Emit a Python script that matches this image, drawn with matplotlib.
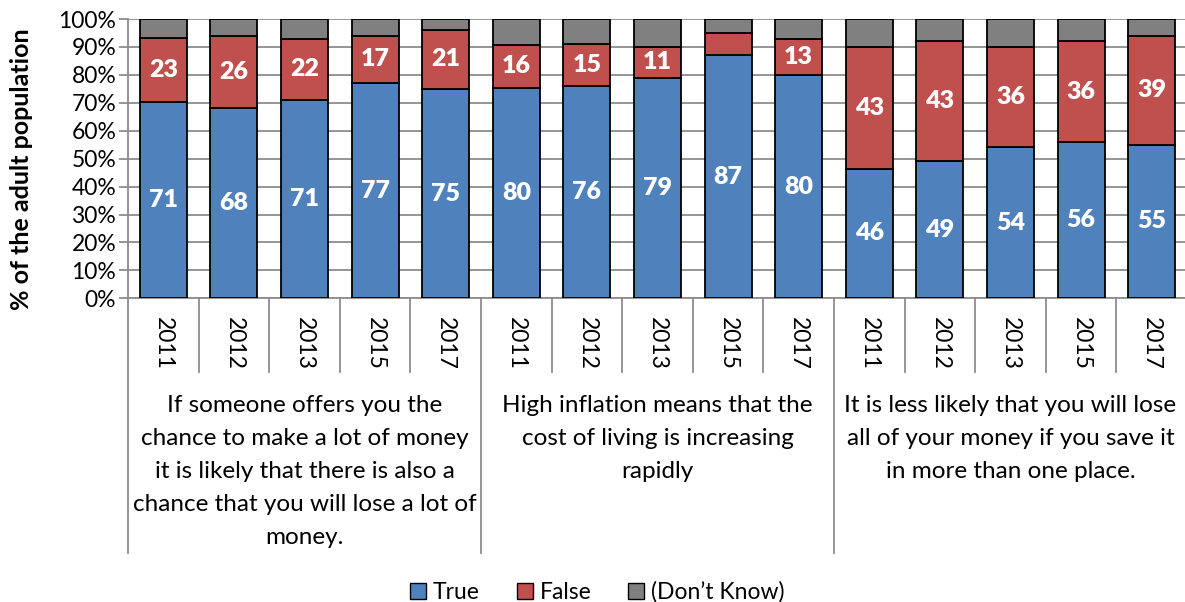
import numpy as np
import matplotlib
matplotlib.use("Agg")
import matplotlib.pyplot as plt
from matplotlib.patches import Patch

plt.rcParams['font.family'] = ['Lato', 'DejaVu Sans']

# data (100% stacked, labels show the raw values)
years = ['2011', '2012', '2013', '2015', '2017'] * 3
groups = ["If someone offers you the\nchance to make a lot of money\nit is likely that there is also a\nchance that you will lose a lot of\nmoney.",
          "High inflation means that the\ncost of living is increasing\nrapidly",
          "It is less likely that you will lose\nall of your money if you save it\nin more than one place."]
true_vals = [71, 68, 71, 77, 75, 80, 76, 79, 87, 80, 46, 49, 54, 56, 55]
false_vals = [23, 26, 22, 17, 21, 16, 15, 11, 8, 13, 43, 43, 36, 36, 39]
dk_vals = [7, 6, 7, 6, 4, 10, 9, 10, 5, 7, 10, 8, 10, 8, 6]

c_true = '#4F81BD'
c_false = '#C0504D'
c_dk = '#808080'
grid_c = '#8C8C8C'

t = np.array(true_vals, float)
f = np.array(false_vals, float)
d = np.array(dk_vals, float)
tot = t + f + d
tp = t / tot * 100
fp = f / tot * 100
dp = d / tot * 100

W, H = 1185, 602
fig = plt.figure(figsize=(W / 100, H / 100), dpi=100)
left, right, top, bottom = 128, 1187, 19, 298.3
ax = fig.add_axes([left / W, 1 - bottom / H, (right - left) / W, (bottom - top) / H])

x = np.arange(len(years))
bw = 0.667
ax.bar(x, tp, bw, color=c_true, edgecolor='black', linewidth=1.3, zorder=3)
ax.bar(x, fp, bw, bottom=tp, color=c_false, edgecolor='black', linewidth=1.3, zorder=3)
ax.bar(x, dp, bw, bottom=tp + fp, color=c_dk, edgecolor='black', linewidth=1.3, zorder=3)

for i in range(len(x)):
    ax.text(x[i], tp[i] / 2, str(true_vals[i]), ha='center', va='center',
            color='white', fontsize=18, fontweight='heavy', zorder=4)
    if false_vals[i] >= 10:
        ax.text(x[i], tp[i] + fp[i] / 2, str(false_vals[i]), ha='center', va='center',
                color='white', fontsize=18, fontweight='heavy', zorder=4)

ax.set_xlim(-0.5, len(years) - 0.5)
ax.set_ylim(0, 100)
ax.set_yticks(np.arange(0, 101, 10))
ax.set_yticklabels([f'{v}%' for v in range(0, 101, 10)], fontsize=16.5)
ax.yaxis.grid(True, color=grid_c, linewidth=1.3, zorder=0)
ax.tick_params(axis='y', length=6.5, width=1.3, color=grid_c, pad=2)
ax.set_xticks([])
for s in ['top', 'right']:
    ax.spines[s].set_visible(False)
for s in ['left', 'bottom']:
    ax.spines[s].set_color(grid_c)
    ax.spines[s].set_linewidth(1.3)
ax.set_ylabel('% of the adult population', fontsize=18, fontweight='bold', va='center')
ax.yaxis.set_label_coords((22 - left) / (right - left), (bottom - 169) / (bottom - top))

# category axis: years and group labels below the plot
ph = bottom - top
def ay(py):
    return (bottom - py) / ph

tr = ax.get_xaxis_transform()
for i, yr in enumerate(years):
    ax.text(x[i], ay(343), yr, rotation=-90, ha='center', va='center',
            fontsize=16.5, transform=tr)
for i in range(len(years) + 1):
    xs = i - 0.5
    yend = ay(553) if i % 5 == 0 else ay(372)
    ax.plot([xs, xs], [0, yend], color=grid_c, linewidth=1.3, transform=tr, clip_on=False)
for g, txt in enumerate(groups):
    ax.text(g * 5 + 2, ay(395), txt, ha='center', va='top', fontsize=17.5,
            linespacing=1.71, transform=tr)

handles = [Patch(facecolor=c_true, edgecolor='black', label='True'),
           Patch(facecolor=c_false, edgecolor='black', label='False'),
           Patch(facecolor=c_dk, edgecolor='black', label='(Don\u2019t Know)')]
fig.legend(handles=handles, loc='lower center', bbox_to_anchor=(0.504, -0.036), ncol=3,
           frameon=False, fontsize=16.5, handlelength=0.7, handleheight=0.7,
           handletextpad=0.3, columnspacing=1.6)

fig.savefig('out.png', dpi=100)
